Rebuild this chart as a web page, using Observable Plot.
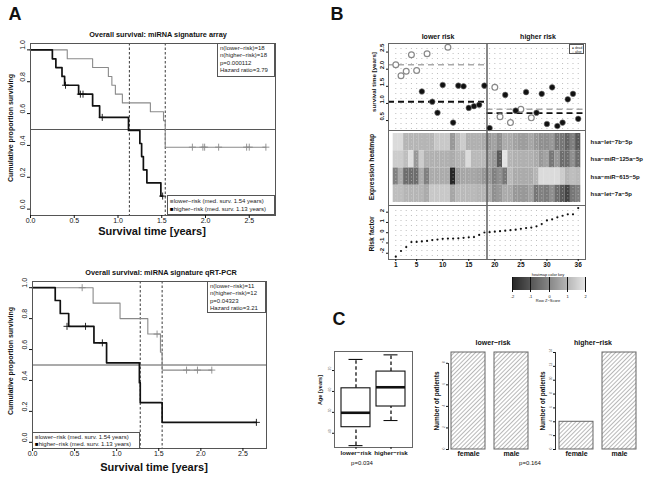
<!DOCTYPE html>
<html><head><meta charset="utf-8">
<script src="https://cdn.jsdelivr.net/npm/d3@7"></script>
<script src="https://cdn.jsdelivr.net/npm/@observablehq/plot@0.6"></script>
<style>
html,body{margin:0;padding:0;background:#fff;}
#fig{position:relative;width:648px;height:477px;overflow:hidden;font-family:"Liberation Sans",Arial,Helvetica,sans-serif;color:#111;}
.t{position:absolute;white-space:nowrap;line-height:1;}
.lg{position:absolute;background:#fff;border:1px solid #555;box-sizing:border-box;font-size:6px;white-space:nowrap;color:#222;}
</style></head><body>
<svg width="0" height="0" style="position:absolute"><defs><pattern id="hatch" patternUnits="userSpaceOnUse" width="3" height="3" patternTransform="rotate(45)"><rect width="3" height="3" fill="#fff"/><line x1="0.5" y1="0" x2="0.5" y2="3" stroke="#b0b0b0" stroke-width="0.9"/></pattern></defs></svg>
<div id="fig"></div>
<script>
// ---------- Panel A data ----------
const kmXTicks=[0,0.5,1,1.5,2,2.5];
const kmYTicks=[0,0.2,0.4,0.6,0.8,1];
const arrLowerT=[0,0.42,0.71,0.89,0.93,0.97,1.05,1.37,1.52,1.54,2.69];
const arrLowerS=[1,0.944,0.889,0.833,0.778,0.722,0.667,0.611,0.556,0.389,0.389];
const arrLowerCensT=[1.85,1.97,1.99,2.15,2.47,2.50,2.69];
const arrLowerCensS=[0.389,0.389,0.389,0.389,0.389,0.389,0.389];
const arrHigherT=[0,0.25,0.29,0.36,0.39,0.55,0.71,0.79,1.12,1.25,1.27,1.29,1.33,1.49,1.51];
const arrHigherS=[1,0.944,0.889,0.833,0.778,0.722,0.648,0.576,0.494,0.412,0.330,0.247,0.165,0.082,0.082];
const arrHigherCensT=[0.40,0.57,0.60,0.82,1.51];
const arrHigherCensS=[0.778,0.722,0.722,0.576,0.082];
const arrMedians=[1.13,1.54];

const pcrLowerT=[0,0.72,1.04,1.37,1.52,1.54,2.13];
const pcrLowerS=[1,0.9,0.8,0.7,0.583,0.467,0.467];
const pcrLowerCensT=[0.59,1.48,1.83,1.96,2.13];
const pcrLowerCensS=[1,0.7,0.467,0.467,0.467];
const pcrHigherT=[0,0.27,0.33,0.43,0.73,0.88,1.27,1.28,1.54,2.66];
const pcrHigherS=[1,0.917,0.833,0.75,0.643,0.514,0.386,0.257,0.129,0.129];
const pcrHigherCensT=[0.41,0.63,0.83,2.66];
const pcrHigherCensS=[0.75,0.75,0.643,0.129];
const pcrMedians=[1.28,1.54];

// ---------- Panel B data ----------
const patients=d3.range(1,37);
const survTime=[2.13,1.81,1.94,2.42,1.96,1.35,2.45,1.05,0.73,1.54,2.64,0.44,1.52,1.50,0.87,0.92,0.96,1.52,0.28,1.47,0.61,1.25,0.44,0.79,0.83,1.33,0.58,0.73,1.28,0.40,1.47,0.34,0.44,1.12,1.28,0.55];
const vitalStatus=["alive","alive","alive","alive","alive","dead","alive","dead","dead","dead","alive","dead","dead","dead","dead","dead","dead","dead","dead","alive","alive","dead","alive","dead","alive","dead","alive","dead","dead","dead","dead","dead","dead","dead","dead","dead"];
const groupSplit=18.5;
const medDead=[1.05,0.72];     // lower risk, higher risk
const medAlive=[2.13,0.83];
const survTicks=[0.5,1,1.5,2,2.5];
const mirNames=["hsa−let−7b−5p","hsa−miR−125a−5p","hsa−miR−615−5p","hsa−let−7a−5p"];
const heatLet7b=[1.8,1.8,1.0,1.0,1.0,1.0,1.0,1.0,1.4,1.4,1.4,0.4,1.1,1.5,0.9,0.9,0.9,0.8, 0.4,0.6,0.2,0.8,0.8,0.6,0.5,0.5,0.7,0.4,0.2,0.2,0.4,-0.3,-0.3,-0.7,-0.1,-0.9];
const heatMiR125a=[1.5,1.5,1.2,1.9,0.4,1.5,0.9,0.9,0.9,0.9,0.9,0.8,1.0,1.0,1.8,1.1,1.1,1.1, 0.6,0.4,-0.9,2.0,1.0,0.9,0.9,0.9,0.9,0.8,0.4,0.6,-0.3,0.4,-0.5,-0.5,0.2,-0.5];
const heatMiR615=[-0.1,0.8,-0.5,-0.5,-0.5,0.8,-0.1,0.8,0.8,0.8,0.8,-2.0,0.4,0.7,0.7,0.7,0.6,0.4, 0.4,-0.1,0.2,-0.3,1.1,0.8,0.8,0.8,0.8,1.0,1.8,1.8,1.8,1.8,1.5,1.0,1.2,1.1];
const heatLet7a=[1.2,1.2,1.0,1.0,1.0,1.0,0.8,1.4,1.4,1.4,1.4,0.7,1.1,1.1,1.1,1.1,1.0,1.0, 0.8,0.2,0.4,0.8,0.8,0.4,0.4,0.4,0.6,-0.3,-0.1,-0.2,0.2,-0.5,-0.9,-1.4,-0.3,-0.1];
const heatRows=[heatLet7b,heatMiR125a,heatMiR615,heatLet7a];
const riskFactor=[-2.33,-1.78,-1.4,-0.91,-0.9,-0.85,-0.8,-0.72,-0.66,-0.6,-0.57,-0.57,-0.55,-0.5,-0.45,-0.43,-0.22,0.02,0.05,0.1,0.15,0.2,0.25,0.3,0.38,0.45,0.5,0.62,0.85,1.2,1.3,1.5,1.65,1.8,1.8,2.4];
const riskTicks=[-2,-1,0,1,2];
const patientTicks=[1,5,10,15,20,25,30,36];
const keyTicks=[-2,-1,0,1,2];
const heatRange=["#262626","#e4e4e4"];

// ---------- Panel C data ----------
const ageGroups=["lower−risk","higher−risk"];
const ageLo=[34.1,46.1], ageQ1=[42.9,52.8], ageMed=[49.8,62.0], ageQ3=[61.5,69.5], ageHi=[75.3,77.5];
const ageTicks=[40,50,60,70];
const sexLabels=["female","male"];
const sexLowerRisk=[9,9];
const sexHigherRisk=[4,14];
const sexLowerTicks=[0,2,4,6,8];
const sexHigherTicks=[0,2,4,6,8,10,12,14];

// ---------- helpers ----------
const W=648,H=477;
const fig=document.getElementById("fig");
const FONT='"Liberation Sans", Arial, Helvetica, sans-serif';
const zip=(a,b)=>a.map((t,i)=>({t,s:b[i]}));
function M(x0,x1,y0,y1){return {width:W,height:H,marginLeft:x0,marginRight:W-x1,marginTop:y0,marginBottom:H-y1};}
function add(el,l=0,t=0){el.style.position="absolute";el.style.left=l+"px";el.style.top=t+"px";el.style.background="transparent";el.style.overflow="visible";el.style.maxWidth="none";fig.appendChild(el);return el;}
function txt(s,x,y,o={}){const d=document.createElement("div");d.className="t";d.textContent=s;d.style.left=x+"px";d.style.top=y+"px";d.style.fontSize=(o.size||7)+"px";if(o.bold)d.style.fontWeight="bold";if(o.color)d.style.color=o.color;const tx=o.anchor==="start"?"0":o.anchor==="end"?"-100%":"-50%";d.style.transform=`translate(${tx},-50%)`+(o.rotate?` rotate(${o.rotate}deg)`:"");fig.appendChild(d);return d;}
function legendBox(lines,x,y,w,h,lh,fs){const d=document.createElement("div");d.className="lg";d.style.left=x+"px";d.style.top=y+"px";d.style.width=w+"px";d.style.height=h+"px";d.style.lineHeight=lh+"px";if(fs)d.style.fontSize=fs+"px";d.style.padding="0.5px 0 0 2px";d.innerHTML=lines.join("<br>");fig.appendChild(d);}
const baseStyle={fontFamily:FONT,fontSize:"7px",background:"transparent",overflow:"visible"};

// ---------- Panel A ----------
function km(fr,xmax,lo,hi,cl,ch,med){
  return Plot.plot({...M(...fr),style:baseStyle,
    x:{domain:[0,xmax],label:null},y:{domain:[-0.04,1.04],label:null},
    marks:[
      Plot.ruleY([0.5],{stroke:"#444",strokeWidth:0.9}),
      Plot.ruleX(med,{stroke:"#222",strokeDasharray:"2.5,2",strokeWidth:0.9}),
      Plot.line(lo,{x:"t",y:"s",curve:"step-after",stroke:"#8a8a8a",strokeWidth:1.1}),
      Plot.line(hi,{x:"t",y:"s",curve:"step-after",stroke:"#111",strokeWidth:1.7}),
      Plot.dot(cl,{x:"t",y:"s",symbol:"plus",r:2.4,stroke:"#8a8a8a",strokeWidth:0.9}),
      Plot.dot(ch,{x:"t",y:"s",symbol:"plus",r:2.4,stroke:"#111",strokeWidth:0.9}),
      Plot.frame({stroke:"#555"}),
      Plot.axisX({ticks:kmXTicks,tickSize:3,tickPadding:0,tickFormat:d3.format(".1f"),fontSize:7}),
      Plot.axisY({ticks:kmYTicks,tickSize:3,tickFormat:()=>""}),
      Plot.text(kmYTicks,{y:d=>d,frameAnchor:"left",dx:-8,rotate:-90,fontSize:7,text:d=>d3.format(".1f")(d)})
    ]});
}
add(km([30,275,43,215],2.8,zip(arrLowerT,arrLowerS),zip(arrHigherT,arrHigherS),zip(arrLowerCensT,arrLowerCensS),zip(arrHigherCensT,arrHigherCensS),arrMedians));
add(km([32,266,281,448],2.78,zip(pcrLowerT,pcrLowerS),zip(pcrHigherT,pcrHigherS),zip(pcrLowerCensT,pcrLowerCensS),zip(pcrHigherCensT,pcrHigherCensS),pcrMedians));

txt("A",15,14,{size:18,bold:true});
txt("Overall survival: miRNA signature array",158,35,{size:7.3,bold:true});
txt("Cumulative proportion surviving",10,128,{size:7,bold:true,rotate:-90});
txt("Survival time [years]",152,230.5,{size:11,bold:true});
legendBox(["n(lower−risk)=18","n(higher−risk)=18","p=0.000112","Hazard ratio=3.79"],217,43,58,34,7.6);
legendBox(['<span style="color:#888">■</span>lower−risk (med. surv. 1.54 years)','<span style="color:#000">■</span>higher−risk (med. surv. 1.13 years)'],167,195,108,20,8);

txt("Overall survival: miRNA signature qRT-PCR",161,273,{size:7.3,bold:true});
txt("Cumulative proportion surviving",10,361,{size:7,bold:true,rotate:-90});
txt("Survival time [years]",154,467,{size:11,bold:true});
legendBox(["n(lower−risk)=11","n(higher−risk)=12","p=0.04323","Hazard ratio=3.21"],207,281,59,32,7.6);
legendBox(['<span style="color:#888">■</span>lower−risk (med. surv. 1.54 years)','<span style="color:#000">■</span>higher−risk (med. surv. 1.13 years)'],32,432,108,16.5,7.6);

// ---------- Panel B ----------
const xB={domain:[-0.4,37.4],label:null};
const grid=Plot.ruleX(patients,{stroke:"#b5b5b5",strokeDasharray:"1,4",strokeWidth:0.9});
const scatterData=patients.map((p,i)=>({p,y:survTime[i],st:vitalStatus[i]}));
const medLines=[
  {x1:-0.4,x2:groupSplit,y:medAlive[0],k:"alive"},{x1:-0.4,x2:groupSplit,y:medDead[0],k:"dead"},
  {x1:groupSplit,x2:37.4,y:medAlive[1],k:"alive"},{x1:groupSplit,x2:37.4,y:medDead[1],k:"dead"}];
add(Plot.plot({...M(388,585,43,130),style:baseStyle,x:{...xB,axis:null},y:{domain:[0.21,2.75],label:null},
  marks:[
    grid,
    Plot.ruleY(medLines.filter(d=>d.k==="alive"),{y:"y",x1:"x1",x2:"x2",stroke:"#aaa",strokeWidth:1.6,strokeDasharray:"6,4"}),
    Plot.ruleY(medLines.filter(d=>d.k==="dead"),{y:"y",x1:"x1",x2:"x2",stroke:"#111",strokeWidth:1.8,strokeDasharray:"6,4"}),
    Plot.ruleX([groupSplit],{stroke:"#555",strokeWidth:1.4}),
    Plot.dot(scatterData.filter(d=>d.st==="alive"),{x:"p",y:"y",r:2.9,stroke:"#888",strokeWidth:1.2,fill:"white"}),
    Plot.dot(scatterData.filter(d=>d.st==="dead"),{x:"p",y:"y",r:2.8,fill:"#111",stroke:"#777",strokeWidth:0.6}),
    Plot.frame({stroke:"#666"}),
    Plot.axisY({ticks:survTicks,tickSize:2,tickFormat:()=>""}),
    Plot.text(survTicks,{y:d=>d,frameAnchor:"left",dx:-6,rotate:-90,fontSize:6,fontWeight:"bold",text:d=>d3.format(".1f")(d)})
  ]}));
const cells=[];
heatRows.forEach((row,r)=>row.forEach((z,i)=>cells.push({p:i+1,r,z})));
add(Plot.plot({...M(388,585,130,205),style:baseStyle,x:{...xB,axis:null},y:{domain:[-0.174,4.174],axis:null,label:null},
  color:{type:"linear",domain:[-2,2],range:heatRange},
  marks:[
    Plot.rect(cells,{x1:d=>d.p-0.5,x2:d=>d.p+0.5,y1:d=>3-d.r,y2:d=>4-d.r,fill:"z"}),
    Plot.ruleX(patients,{y1:0,y2:4,stroke:"#d8d8d8",strokeOpacity:0.55,strokeDasharray:"1,2.5",strokeWidth:1}),
    Plot.ruleX([groupSplit],{stroke:"#555",strokeWidth:1.4}),
    Plot.frame({stroke:"#666"}),
    Plot.text(mirNames,{x:37.4,y:(d,i)=>3.5-i,dx:5,textAnchor:"start",fontSize:6,fontWeight:"bold",text:d=>d})
  ]}));
const riskData=patients.map((p,i)=>({p,v:riskFactor[i]}));
add(Plot.plot({...M(388,585,205,259),style:baseStyle,x:{...xB},y:{domain:[-2.61,2.65],label:null},
  marks:[
    grid,
    Plot.ruleX([groupSplit],{stroke:"#555",strokeWidth:1.4}),
    Plot.dot(riskData,{x:"p",y:"v",r:1.1,fill:"#111"}),
    Plot.frame({stroke:"#666"}),
    Plot.axisY({ticks:riskTicks,tickSize:2,tickFormat:()=>""}),
    Plot.text(riskTicks,{y:d=>d,frameAnchor:"left",dx:-6,rotate:-90,fontSize:6,fontWeight:"bold",text:String}),
    Plot.axisX({ticks:patientTicks,tickSize:2,tickPadding:1,fontSize:6.5,fontWeight:"bold"})
  ]}));
txt("B",337,14,{size:18,bold:true});
txt("lower risk",438,36,{size:7,bold:true});
txt("higher risk",538,36,{size:7,bold:true});
txt("survival time [years]",374,82,{size:6.2,bold:true,rotate:-90});
txt("Expression heatmap",372,167,{size:6.8,bold:true,rotate:-90});
txt("Risk factor",372,234,{size:6.8,bold:true,rotate:-90});
// small legend dead/alive
legendBox(['<span style="color:#000">●</span> dead','<span style="color:#888">○</span> alive'],569,44,15,10,4,3.3);
const key=Plot.legend({color:{type:"linear",domain:[-2,2],range:heatRange},ticks:keyTicks,tickFormat:d=>String(d),tickSize:2,width:81,height:26,marginTop:6,marginBottom:7,marginLeft:4,marginRight:4,label:null,style:{fontSize:"4px",fontFamily:FONT,background:"transparent"}});
add(key,508,271);
txt("heatmap color key",548,274.5,{size:4});
txt("Row Z−Score",548,301,{size:4});

// ---------- Panel C ----------
const box=ageGroups.map((g,i)=>({g,pos:i+1,lo:ageLo[i],q1:ageQ1[i],med:ageMed[i],q3:ageQ3[i],hi:ageHi[i]}));
add(Plot.plot({...M(334,412,351,447),style:baseStyle,x:{domain:[0.386,2.614],label:null},y:{domain:[33.2,79.1],label:null},
  marks:[
    Plot.ruleX(box,{x:"pos",y1:"q3",y2:"hi",strokeDasharray:"3.5,2.5",strokeWidth:1.3,stroke:"#111"}),
    Plot.ruleX(box,{x:"pos",y1:"lo",y2:"q1",strokeDasharray:"3.5,2.5",strokeWidth:1.3,stroke:"#111"}),
    Plot.ruleY(box,{y:"hi",x1:d=>d.pos-0.2,x2:d=>d.pos+0.2,strokeWidth:1.1,stroke:"#111"}),
    Plot.ruleY(box,{y:"lo",x1:d=>d.pos-0.2,x2:d=>d.pos+0.2,strokeWidth:1.1,stroke:"#111"}),
    Plot.rect(box,{x1:d=>d.pos-0.414,x2:d=>d.pos+0.414,y1:"q1",y2:"q3",fill:"white",stroke:"#111",strokeWidth:1.1}),
    Plot.ruleY(box,{y:"med",x1:d=>d.pos-0.414,x2:d=>d.pos+0.414,strokeWidth:2.6,stroke:"#111"}),
    Plot.frame({stroke:"#666"}),
    Plot.axisY({ticks:ageTicks,tickSize:2,tickFormat:()=>""}),
    Plot.text(ageTicks,{y:d=>d,frameAnchor:"left",dx:-5,rotate:-90,fontSize:3.5,text:String,fill:"#666"}),
    Plot.axisX({ticks:[1,2],tickSize:2,tickPadding:1,tickFormat:i=>ageGroups[i-1],fontSize:6.2,fontWeight:"bold"})
  ]}));
function sexBars(counts,ticks,ymax,axisX0,rangeX,axisTop){
  const data=sexLabels.map((s,i)=>({s,n:counts[i]}));
  return Plot.plot({width:W,height:H,marginLeft:axisX0,marginRight:W-rangeX[1],marginTop:axisTop,marginBottom:H-449,style:baseStyle,
    x:{type:"band",domain:sexLabels,range:rangeX,paddingInner:0.2,paddingOuter:0,label:null},
    y:{domain:[0,ymax],range:[449,352],label:null},
    marks:[
      Plot.barY(data,{x:"s",y:"n",fill:"url(#hatch)",stroke:"#666",strokeWidth:1}),
      Plot.frame({anchor:"left",stroke:"#333"}),
      Plot.axisY({ticks,tickSize:2,tickFormat:()=>""}),
      Plot.text(ticks,{y:d=>d,frameAnchor:"left",dx:-4.5,rotate:-90,fontSize:3.3,text:String,fill:"#666"}),
      Plot.axisX({tickSize:0,tickPadding:2,fontSize:7,fontWeight:"bold"})
    ]});
}
add(sexBars(sexLowerRisk,sexLowerTicks,9,448,[450.5,529.5],363));
add(sexBars(sexHigherRisk,sexHigherTicks,14,555,[558,637],352));
txt("C",339,319,{size:18,bold:true});
txt("Age [years]",321,390,{size:5.5,bold:true,rotate:-90});
txt("p=0.034",362,463,{size:6});
txt("lower−risk",493,342,{size:7,bold:true});
txt("higher−risk",593,342,{size:7,bold:true});
txt("Number of patients",437,401,{size:6.5,bold:true,rotate:-90});
txt("Number of patients",543,401,{size:6.5,bold:true,rotate:-90});
txt("p=0.164",530,463,{size:6});
</script>
</body></html>
